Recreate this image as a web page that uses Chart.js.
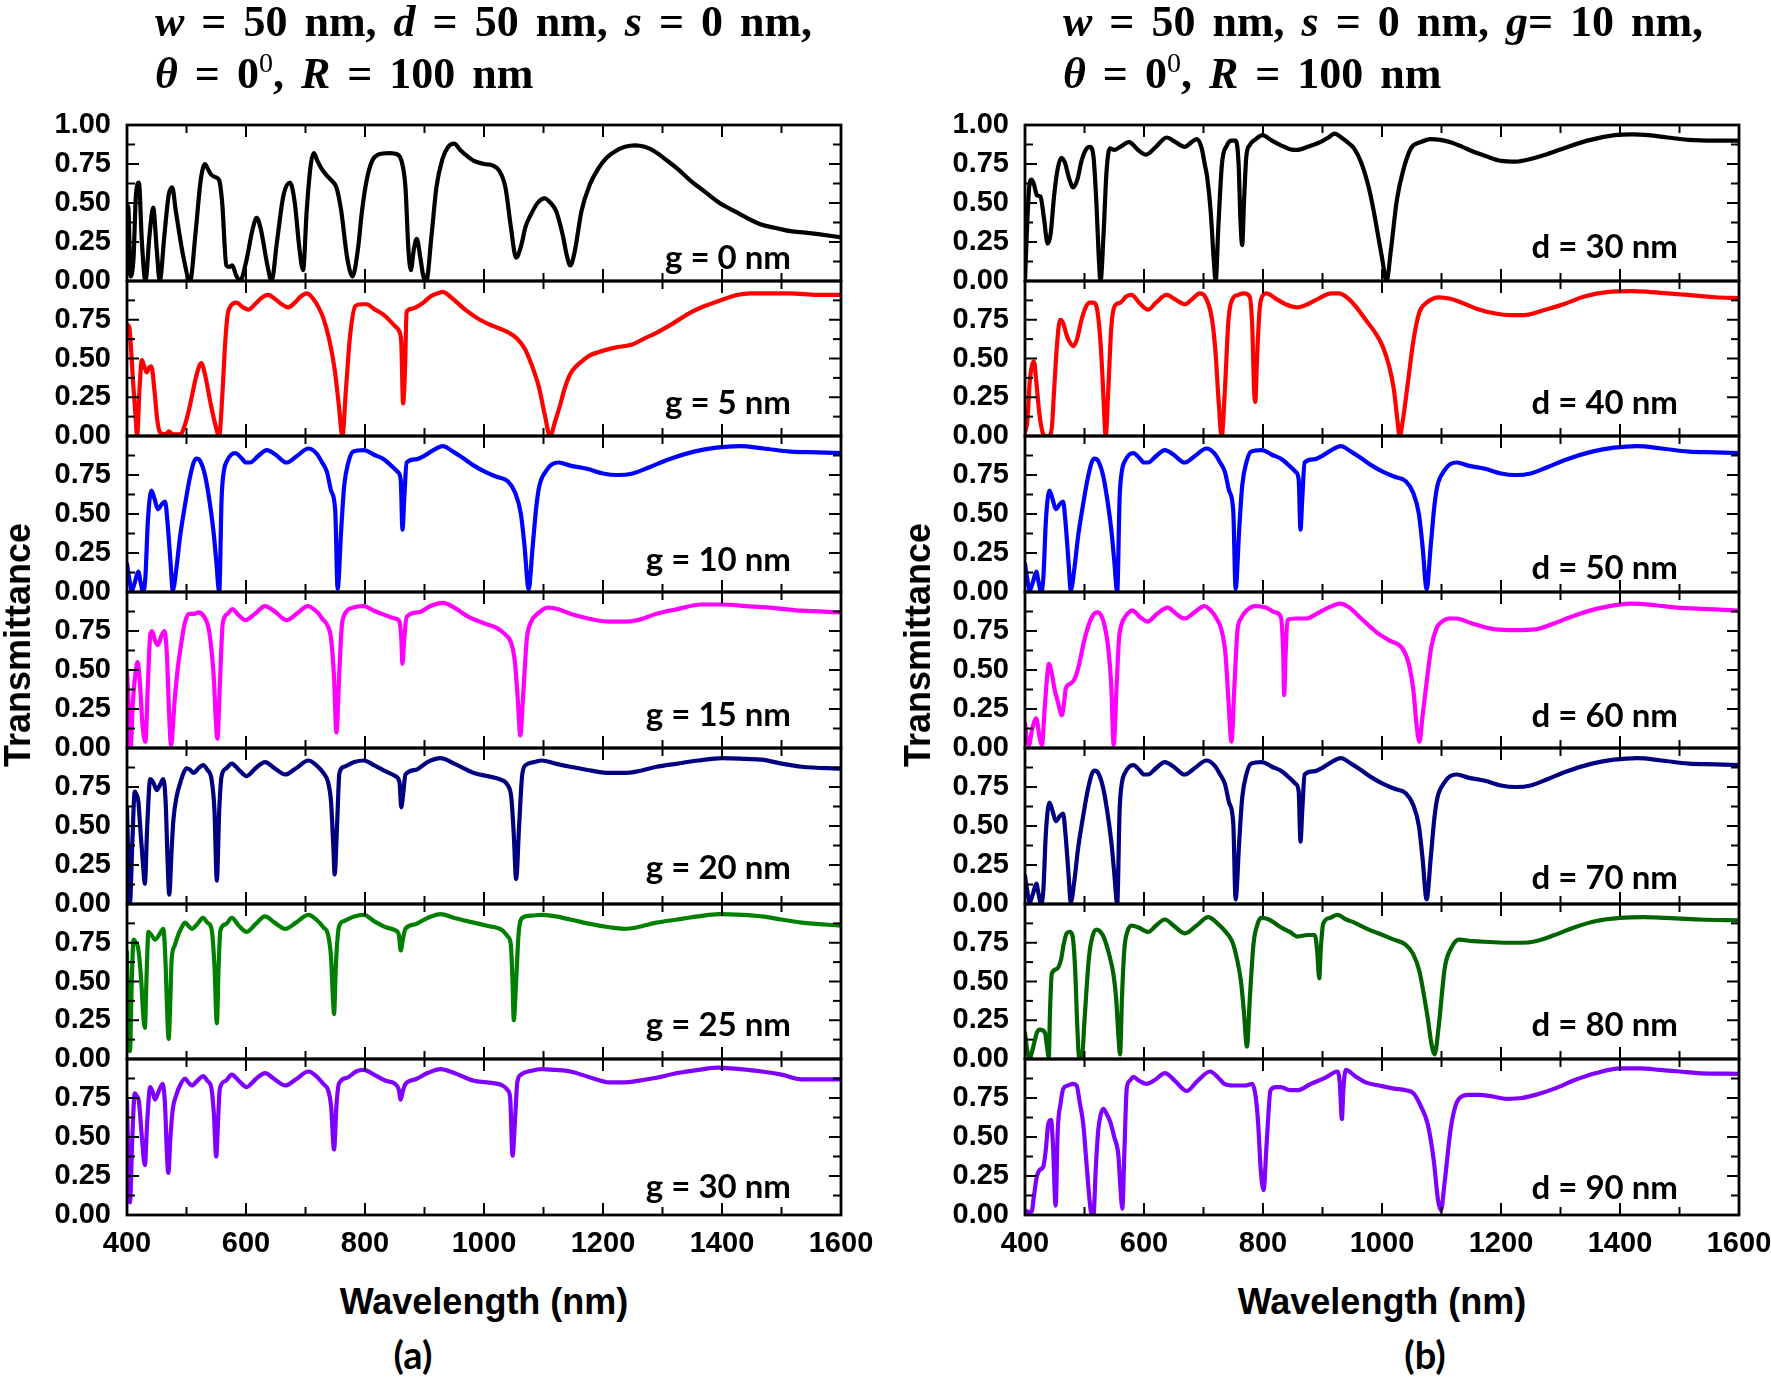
<!DOCTYPE html>
<html>
<head>
<meta charset="utf-8">
<script src="https://cdn.jsdelivr.net/npm/chart.js@4.4.1/dist/chart.umd.min.js"></script>
<style>
  html,body{margin:0;padding:0;background:#fff;}
  body{width:1771px;height:1384px;position:relative;overflow:hidden;font-family:'Liberation Sans',Arial,sans-serif;}
  canvas{position:absolute;}
  .title{position:absolute;font-family:'Liberation Serif','Times New Roman',serif;font-weight:bold;font-size:44px;line-height:52px;white-space:nowrap;letter-spacing:0;word-spacing:6px;color:#000;}
  .title sup{font-size:28px;font-weight:normal;vertical-align:0;position:relative;top:-16px;}
  .plabel{position:absolute;font-family:Lato,'Open Sans',sans-serif;font-weight:bold;font-size:33px;line-height:33px;white-space:nowrap;color:#000;transform:translateY(-50%);}
  .axt{position:absolute;font-family:'Liberation Sans',Arial,sans-serif;font-weight:bold;font-size:36px;line-height:36px;white-space:nowrap;color:#000;}
  .sub{position:absolute;font-family:Lato,'Open Sans',sans-serif;font-weight:bold;font-size:38px;line-height:38px;color:#000;transform:translate(-50%,-50%);}
</style>
</head>
<body>
<script>
// ---------- data ----------
const wavelengthTicks = [400, 600, 800, 1000, 1200, 1400, 1600];
const transmittanceTicks = [0, 0.25, 0.5, 0.75, 1.0];
const leftLabels = ['g = 0 nm', 'g = 5 nm', 'g = 10 nm', 'g = 15 nm', 'g = 20 nm', 'g = 25 nm', 'g = 30 nm'];
const rightLabels = ['d = 30 nm', 'd = 40 nm', 'd = 50 nm', 'd = 60 nm', 'd = 70 nm', 'd = 80 nm', 'd = 90 nm'];
const leftColors = ['#000000', '#ff0000', '#0000ff', '#ff00ff', '#000080', '#008000', '#8000ff'];
const rightColors = ['#000000', '#ff0000', '#0000ff', '#ff00ff', '#000080', '#006400', '#8000ff'];

// [wavelength (nm), transmittance]
const g0 = [[400,0.05],[402,0.48],[406,0.03],[411,0.15],[415,0.55],[420,0.63],[425,0.25],[431,0.0],[438,0.3],[444,0.47],[450,0.2],[455,0.0],[463,0.3],[470,0.55],[476,0.60],[482,0.45],[495,0.15],[506,0.0],[515,0.3],[524,0.65],[531,0.75],[537,0.71],[542,0.68],[549,0.665],[555,0.645],[560,0.5],[567,0.1],[572,0.09],[577,0.1],[583,0.04],[590,0.0],[600,0.12],[611,0.33],[618,0.405],[625,0.33],[636,0.1],[643,0.0],[652,0.25],[663,0.55],[674,0.63],[682,0.5],[690,0.2],[696,0.07],[702,0.45],[709,0.75],[714,0.82],[720,0.77],[727,0.72],[737,0.67],[745,0.64],[752,0.6],[760,0.45],[770,0.15],[779,0.03],[788,0.2],[795,0.45],[803,0.65],[812,0.77],[822,0.81],[841,0.82],[855,0.81],[862,0.76],[868,0.6],[873,0.2],[877,0.07],[882,0.2],[887,0.27],[893,0.15],[898,0.03],[903,0.0],[912,0.3],[920,0.6],[930,0.78],[940,0.86],[950,0.88],[960,0.84],[972,0.8],[983,0.77],[1000,0.75],[1015,0.74],[1025,0.71],[1036,0.6],[1045,0.35],[1054,0.15],[1062,0.22],[1070,0.35],[1078,0.42],[1090,0.5],[1102,0.53],[1112,0.5],[1121,0.45],[1132,0.3],[1140,0.15],[1145,0.1],[1152,0.18],[1164,0.45],[1178,0.62],[1192,0.72],[1206,0.79],[1220,0.83],[1237,0.86],[1254,0.87],[1270,0.86],[1287,0.83],[1305,0.78],[1325,0.72],[1348,0.64],[1372,0.57],[1396,0.5],[1420,0.45],[1444,0.4],[1467,0.36],[1490,0.34],[1515,0.32],[1540,0.31],[1562,0.3],[1600,0.28]];
const g5 = [[400,0.72],[404,0.70],[407,0.55],[410,0.36],[414,0.15],[417,0.0],[421,0.3],[425,0.49],[429,0.45],[433,0.41],[437,0.44],[441,0.45],[446,0.3],[451,0.1],[456,0.02],[465,0.01],[470,0.03],[478,0.01],[489,0.01],[498,0.08],[506,0.2],[516,0.38],[525,0.47],[532,0.38],[540,0.22],[548,0.08],[555,0.0],[560,0.25],[565,0.6],[569,0.78],[573,0.83],[584,0.86],[595,0.83],[604,0.815],[615,0.85],[626,0.89],[637,0.91],[650,0.88],[660,0.85],[671,0.83],[682,0.86],[692,0.9],[702,0.92],[712,0.89],[722,0.83],[730,0.76],[740,0.62],[749,0.43],[756,0.2],[762,0.0],[768,0.3],[775,0.65],[784,0.84],[794,0.85],[803,0.85],[815,0.82],[832,0.78],[850,0.71],[857,0.68],[861,0.6],[864,0.21],[867,0.4],[870,0.8],[878,0.82],[890,0.84],[898,0.86],[910,0.9],[922,0.92],[931,0.93],[943,0.9],[955,0.86],[970,0.81],[993,0.75],[1015,0.71],[1040,0.67],[1055,0.63],[1069,0.56],[1080,0.46],[1092,0.32],[1102,0.14],[1111,0.0],[1120,0.1],[1128,0.2],[1135,0.3],[1145,0.4],[1155,0.45],[1164,0.48],[1178,0.52],[1192,0.54],[1220,0.57],[1249,0.59],[1270,0.63],[1287,0.66],[1315,0.72],[1344,0.79],[1372,0.84],[1401,0.88],[1425,0.91],[1448,0.92],[1480,0.92],[1514,0.92],[1560,0.91],[1600,0.91]];
const g10 = [[400,0.18],[404,0.08],[408,0.01],[413,0.06],[419,0.13],[423,0.06],[427,0.0],[431,0.1],[435,0.45],[441,0.65],[446,0.6],[452,0.53],[458,0.56],[464,0.58],[468,0.45],[473,0.2],[477,0.01],[483,0.15],[489,0.35],[495,0.5],[505,0.72],[512,0.83],[517,0.855],[523,0.84],[531,0.75],[538,0.6],[545,0.4],[550,0.2],[555,0.0],[559,0.6],[563,0.78],[568,0.84],[575,0.88],[582,0.89],[592,0.86],[600,0.83],[607,0.83],[620,0.87],[635,0.91],[650,0.88],[668,0.83],[685,0.87],[705,0.92],[718,0.89],[728,0.83],[736,0.77],[743,0.65],[750,0.52],[754,0.02],[760,0.4],[765,0.68],[772,0.83],[780,0.9],[798,0.91],[815,0.88],[832,0.85],[855,0.77],[860,0.72],[863,0.40],[866,0.6],[870,0.83],[885,0.85],[898,0.87],[915,0.91],[931,0.935],[948,0.9],[964,0.86],[983,0.81],[1002,0.77],[1020,0.74],[1040,0.71],[1052,0.64],[1062,0.5],[1068,0.3],[1075,0.02],[1082,0.3],[1088,0.55],[1093,0.68],[1105,0.78],[1115,0.82],[1126,0.83],[1145,0.81],[1173,0.79],[1200,0.76],[1225,0.75],[1250,0.76],[1278,0.8],[1310,0.85],[1353,0.9],[1390,0.925],[1429,0.935],[1470,0.92],[1515,0.9],[1560,0.895],[1600,0.89]];
const g15 = [[400,0.5],[403,0.25],[406,0.0],[410,0.3],[415,0.5],[418,0.55],[422,0.4],[426,0.15],[431,0.04],[435,0.4],[439,0.72],[442,0.75],[447,0.69],[452,0.66],[458,0.72],[463,0.75],[467,0.6],[471,0.2],[474,0.02],[480,0.3],[485,0.5],[490,0.64],[497,0.8],[504,0.86],[513,0.86],[520,0.87],[530,0.84],[538,0.75],[545,0.5],[552,0.06],[556,0.4],[561,0.8],[569,0.86],[577,0.89],[588,0.85],[599,0.82],[615,0.86],[632,0.91],[650,0.87],[668,0.82],[685,0.86],[704,0.91],[720,0.87],[730,0.82],[737,0.785],[743,0.7],[748,0.45],[752,0.1],[757,0.5],[761,0.78],[765,0.85],[780,0.9],[798,0.91],[815,0.88],[835,0.85],[850,0.83],[858,0.81],[861,0.7],[863,0.54],[866,0.7],[870,0.84],[890,0.87],[910,0.91],[931,0.93],[950,0.9],[974,0.84],[1000,0.8],[1021,0.77],[1035,0.73],[1045,0.68],[1052,0.55],[1057,0.3],[1061,0.08],[1066,0.35],[1072,0.7],[1078,0.8],[1090,0.86],[1107,0.9],[1125,0.89],[1145,0.86],[1175,0.83],[1211,0.81],[1235,0.81],[1258,0.82],[1290,0.86],[1325,0.89],[1365,0.92],[1401,0.92],[1440,0.91],[1480,0.9],[1534,0.88],[1600,0.87]];
const g20 = [[400,0.62],[402,0.3],[405,0.01],[409,0.4],[413,0.72],[416,0.7],[419,0.66],[423,0.45],[427,0.25],[430,0.13],[434,0.5],[439,0.8],[444,0.78],[450,0.73],[455,0.76],[461,0.8],[465,0.65],[468,0.3],[471,0.06],[475,0.35],[478,0.54],[484,0.7],[489,0.77],[495,0.84],[500,0.87],[506,0.86],[512,0.84],[520,0.87],[528,0.89],[535,0.86],[542,0.8],[547,0.6],[551,0.15],[555,0.6],[559,0.82],[567,0.87],[576,0.9],[588,0.86],[601,0.82],[616,0.87],[632,0.91],[648,0.87],[666,0.83],[684,0.87],[705,0.92],[718,0.89],[730,0.84],[738,0.78],[743,0.65],[747,0.35],[749,0.19],[753,0.5],[757,0.84],[765,0.88],[782,0.91],[798,0.92],[815,0.89],[835,0.85],[851,0.82],[858,0.78],[861,0.62],[864,0.7],[868,0.83],[885,0.86],[905,0.91],[927,0.935],[950,0.9],[983,0.84],[1005,0.82],[1026,0.8],[1040,0.76],[1046,0.68],[1050,0.45],[1054,0.16],[1059,0.5],[1064,0.82],[1070,0.89],[1085,0.91],[1097,0.92],[1120,0.9],[1145,0.88],[1180,0.855],[1211,0.84],[1235,0.84],[1258,0.85],[1290,0.88],[1325,0.9],[1360,0.92],[1401,0.935],[1440,0.93],[1467,0.925],[1500,0.9],[1534,0.88],[1600,0.867]];
const g25 = [[400,0.69],[402,0.3],[405,0.05],[408,0.5],[411,0.77],[415,0.75],[419,0.71],[424,0.5],[427,0.3],[430,0.2],[433,0.55],[436,0.82],[441,0.8],[447,0.77],[454,0.8],[461,0.84],[465,0.6],[468,0.25],[470,0.13],[473,0.4],[475,0.64],[480,0.73],[486,0.8],[492,0.85],[497.5,0.88],[503,0.86],[509,0.84],[518,0.87],[528,0.91],[535,0.88],[542,0.84],[547,0.6],[551,0.23],[554,0.6],[557,0.83],[566,0.87],[576,0.91],[588,0.86],[601,0.82],[616,0.87],[632,0.92],[648,0.88],[666,0.84],[684,0.88],[705,0.93],[718,0.9],[730,0.85],[738,0.8],[743,0.65],[746,0.4],[748,0.29],[751,0.6],[756,0.85],[765,0.89],[782,0.92],[798,0.93],[815,0.89],[835,0.85],[851,0.83],[857,0.8],[860,0.7],[864,0.78],[868,0.84],[885,0.87],[905,0.91],[927,0.935],[950,0.91],[983,0.88],[1005,0.86],[1031,0.83],[1040,0.79],[1045,0.74],[1048,0.5],[1050,0.25],[1054,0.5],[1058,0.8],[1064,0.91],[1080,0.925],[1097,0.93],[1120,0.92],[1145,0.9],[1180,0.87],[1211,0.85],[1235,0.84],[1258,0.85],[1290,0.88],[1325,0.9],[1360,0.92],[1395,0.935],[1435,0.93],[1467,0.92],[1500,0.9],[1534,0.88],[1600,0.86]];
const g30 = [[400,0.73],[402,0.4],[405,0.08],[409,0.5],[413,0.78],[417,0.76],[420,0.73],[425,0.5],[430,0.32],[434,0.6],[439,0.82],[443,0.79],[447,0.74],[453,0.79],[460,0.84],[464,0.7],[467,0.4],[469.5,0.27],[473,0.5],[477,0.68],[483,0.77],[489,0.83],[497.5,0.875],[503,0.85],[509,0.83],[518,0.86],[528,0.89],[535,0.86],[542,0.81],[546,0.65],[550,0.375],[553,0.6],[556,0.81],[566,0.86],[576,0.9],[588,0.86],[601,0.82],[616,0.87],[632,0.91],[648,0.87],[666,0.83],[684,0.87],[705,0.92],[718,0.89],[730,0.84],[738,0.8],[743,0.7],[748,0.42],[752,0.7],[756,0.84],[770,0.88],[785,0.92],[798,0.93],[815,0.9],[835,0.86],[851,0.84],[857,0.8],[860,0.74],[864,0.8],[868,0.84],[885,0.87],[905,0.91],[927,0.935],[950,0.91],[983,0.86],[1005,0.85],[1031,0.83],[1040,0.8],[1044,0.75],[1048,0.38],[1052,0.6],[1056,0.85],[1062,0.9],[1080,0.925],[1097,0.935],[1120,0.93],[1145,0.92],[1180,0.88],[1211,0.85],[1235,0.85],[1258,0.86],[1290,0.88],[1325,0.91],[1360,0.93],[1392,0.945],[1430,0.935],[1467,0.92],[1500,0.9],[1534,0.87],[1600,0.87]];

const d30 = [[400,0.0],[403,0.3],[407,0.6],[411,0.65],[415,0.62],[420,0.55],[426,0.54],[432,0.4],[438,0.24],[443,0.3],[449,0.55],[455,0.72],[461,0.79],[467,0.76],[474,0.66],[481,0.6],[488,0.65],[495,0.77],[502,0.84],[509,0.86],[515,0.8],[520,0.5],[524,0.15],[527,0.0],[532,0.3],[537,0.7],[542.6,0.85],[550,0.84],[560,0.86],[575,0.89],[590,0.84],[603.5,0.81],[620,0.86],[638,0.92],[653,0.89],[668,0.86],[680,0.89],[689,0.91],[697,0.85],[702,0.75],[706,0.67],[712,0.45],[717,0.15],[720.5,0.0],[725,0.35],[731,0.75],[739.5,0.87],[747,0.9],[754,0.9],[759,0.75],[762,0.4],[765,0.23],[768,0.5],[772,0.8],[777.5,0.87],[788,0.91],[799,0.935],[815,0.9],[830,0.87],[845,0.845],[858,0.84],[875,0.86],[896,0.89],[910,0.92],[920,0.945],[935,0.91],[945,0.88],[953,0.85],[965,0.76],[977,0.61],[986,0.45],[993,0.3],[1000,0.15],[1007.7,0.0],[1015,0.2],[1025,0.52],[1035,0.7],[1048.6,0.85],[1065,0.89],[1082,0.91],[1098,0.905],[1115,0.89],[1135,0.86],[1153,0.83],[1175,0.8],[1200,0.77],[1225,0.765],[1248,0.78],[1275,0.81],[1305,0.85],[1345,0.9],[1391,0.935],[1420,0.94],[1448,0.935],[1480,0.92],[1514.5,0.905],[1560,0.9],[1600,0.9]];
const d40 = [[400,0.02],[404,0.1],[408,0.35],[412,0.46],[415,0.48],[419,0.35],[424,0.15],[429,0.03],[433,0.0],[440,0.0],[445,0.05],[449,0.3],[454,0.6],[459,0.75],[464,0.73],[470,0.65],[476,0.6],[481,0.58],[487,0.62],[495,0.75],[502,0.83],[509,0.86],[515,0.86],[520.5,0.83],[526,0.65],[530,0.4],[533,0.15],[535.6,0.0],[540,0.3],[545,0.7],[551,0.84],[560,0.86],[570,0.9],[579,0.91],[592,0.86],[607,0.815],[620,0.86],[638,0.91],[653,0.88],[669,0.85],[680,0.88],[694,0.92],[704,0.89],[714,0.76],[720,0.55],[725,0.25],[730.5,0.0],[736,0.3],[742,0.75],[749,0.885],[758,0.91],[768,0.92],[777.5,0.9],[782,0.7],[785,0.3],[787,0.22],[790,0.5],[794,0.8],[797,0.885],[806,0.92],[820,0.89],[838,0.85],[858,0.83],[875,0.85],[895,0.89],[915,0.92],[928,0.92],[939,0.9],[955,0.84],[972.5,0.75],[988,0.67],[1001,0.58],[1012,0.45],[1020,0.3],[1026,0.1],[1029.6,0.0],[1035,0.1],[1044,0.36],[1053,0.62],[1063,0.8],[1075,0.86],[1096,0.895],[1115,0.885],[1134,0.86],[1160,0.82],[1191,0.79],[1215,0.78],[1239,0.78],[1270,0.81],[1305,0.85],[1340,0.9],[1381,0.93],[1420,0.935],[1448,0.93],[1480,0.92],[1514.5,0.91],[1560,0.895],[1600,0.89]];
const d50 = [[400,0.18],[404,0.08],[408,0.01],[413,0.06],[419,0.13],[423,0.06],[427,0.0],[431,0.1],[435,0.45],[441,0.65],[446,0.6],[452,0.53],[458,0.56],[464,0.58],[468,0.45],[473,0.2],[477,0.01],[483,0.15],[489,0.35],[495,0.5],[505,0.72],[512,0.83],[517,0.855],[523,0.84],[531,0.75],[538,0.6],[545,0.4],[550,0.2],[555,0.0],[559,0.6],[563,0.78],[568,0.84],[575,0.88],[582,0.89],[592,0.86],[600,0.83],[607,0.83],[620,0.87],[635,0.91],[650,0.88],[668,0.83],[685,0.87],[705,0.92],[718,0.89],[728,0.83],[736,0.77],[743,0.65],[750,0.52],[754,0.02],[760,0.4],[765,0.68],[772,0.83],[780,0.9],[798,0.91],[815,0.88],[832,0.85],[855,0.77],[860,0.72],[863,0.40],[866,0.6],[870,0.83],[885,0.85],[898,0.87],[915,0.91],[931,0.935],[948,0.9],[964,0.86],[983,0.81],[1002,0.77],[1020,0.74],[1040,0.71],[1052,0.64],[1062,0.5],[1068,0.3],[1075,0.02],[1082,0.3],[1088,0.55],[1093,0.68],[1105,0.78],[1115,0.82],[1126,0.83],[1145,0.81],[1173,0.79],[1200,0.76],[1225,0.75],[1250,0.76],[1278,0.8],[1310,0.85],[1353,0.9],[1390,0.925],[1429,0.935],[1470,0.92],[1515,0.9],[1560,0.895],[1600,0.89]];
const d60 = [[400,0.16],[403,0.06],[406.7,0.02],[412,0.12],[419,0.19],[424,0.08],[428.5,0.02],[433,0.25],[437,0.45],[440,0.54],[445,0.48],[449.5,0.38],[455,0.3],[462,0.21],[466,0.3],[468.5,0.38],[475,0.41],[483,0.44],[490,0.52],[499,0.68],[508,0.8],[516,0.86],[522,0.87],[528,0.85],[534,0.78],[540,0.64],[545,0.4],[549,0.02],[554,0.4],[558,0.7],[561.7,0.785],[570,0.85],[580.7,0.88],[593,0.84],[606,0.81],[622,0.86],[639.7,0.9],[654,0.86],[668,0.83],[685,0.87],[701.5,0.91],[715,0.87],[722,0.83],[730,0.76],[737,0.6],[742,0.3],[747,0.04],[752,0.4],[757,0.75],[763,0.83],[772,0.88],[787,0.91],[805,0.9],[820,0.87],[830,0.84],[834,0.6],[835.6,0.34],[838,0.6],[841,0.82],[855,0.83],[872.6,0.83],[890,0.86],[910,0.9],[929.7,0.925],[945,0.9],[965,0.83],[991.5,0.74],[1012,0.69],[1034,0.64],[1045,0.54],[1053,0.36],[1058,0.15],[1063,0.04],[1068,0.2],[1075,0.42],[1083,0.65],[1092,0.77],[1101,0.81],[1112,0.83],[1124.7,0.83],[1150,0.8],[1191,0.76],[1225,0.755],[1258,0.76],[1290,0.8],[1324,0.85],[1370,0.9],[1419.5,0.925],[1460,0.915],[1495.6,0.9],[1550,0.89],[1600,0.88]];
const d70 = [[400,0.18],[404,0.08],[408,0.01],[413,0.06],[419,0.13],[423,0.06],[427,0.0],[431,0.1],[435,0.45],[441,0.65],[446,0.6],[452,0.53],[458,0.56],[464,0.58],[468,0.45],[473,0.2],[477,0.01],[483,0.15],[489,0.35],[495,0.5],[505,0.72],[512,0.83],[517,0.855],[523,0.84],[531,0.75],[538,0.6],[545,0.4],[550,0.2],[555,0.0],[559,0.6],[563,0.78],[568,0.84],[575,0.88],[582,0.89],[592,0.86],[600,0.83],[607,0.83],[620,0.87],[635,0.91],[650,0.88],[668,0.83],[685,0.87],[705,0.92],[718,0.89],[728,0.83],[736,0.77],[743,0.65],[750,0.52],[754,0.03],[760,0.4],[765,0.68],[772,0.83],[780,0.9],[798,0.91],[815,0.88],[832,0.85],[855,0.77],[860,0.72],[863,0.40],[866,0.6],[870,0.83],[885,0.85],[898,0.87],[915,0.91],[931,0.935],[948,0.9],[964,0.86],[983,0.81],[1002,0.77],[1020,0.74],[1040,0.71],[1052,0.64],[1062,0.5],[1068,0.3],[1075,0.03],[1082,0.3],[1088,0.55],[1093,0.68],[1105,0.78],[1115,0.82],[1126,0.83],[1145,0.81],[1173,0.79],[1200,0.76],[1225,0.75],[1250,0.76],[1278,0.8],[1310,0.85],[1353,0.9],[1390,0.925],[1429,0.935],[1470,0.92],[1515,0.9],[1560,0.895],[1600,0.89]];
const d80 = [[400,0.17],[404,0.05],[408,0.01],[414,0.08],[420,0.17],[425,0.19],[433.6,0.17],[437,0.08],[440,0.01],[442,0.3],[445,0.55],[453,0.58],[460.5,0.64],[465,0.74],[470,0.81],[475,0.82],[479.5,0.8],[484,0.6],[488,0.2],[491,0.01],[496,0.02],[500,0.25],[507.6,0.66],[514,0.8],[520.4,0.835],[527,0.82],[533,0.78],[541,0.68],[548.5,0.55],[553,0.4],[557,0.15],[559.7,0.03],[563,0.4],[567,0.71],[572,0.82],[579,0.86],[590,0.85],[607,0.82],[620,0.86],[635,0.9],[650,0.86],[669,0.81],[688,0.86],[708,0.915],[722,0.88],[741.7,0.8],[749,0.75],[756,0.65],[763,0.5],[768,0.3],[773,0.08],[778,0.4],[784,0.74],[790,0.86],[796.6,0.91],[810,0.9],[830,0.85],[845,0.82],[858,0.79],[875,0.8],[887,0.8],[891,0.7],[894.5,0.52],[897,0.7],[901,0.87],[912,0.91],[925,0.93],[940,0.9],[953.5,0.88],[975,0.84],[1001,0.8],[1020,0.77],[1039,0.74],[1052,0.68],[1063,0.565],[1071,0.4],[1077,0.26],[1083,0.1],[1088.5,0.03],[1095,0.2],[1105.6,0.59],[1117,0.72],[1129,0.77],[1153,0.76],[1180,0.755],[1210,0.75],[1235,0.75],[1258,0.76],[1290,0.8],[1324,0.85],[1360,0.89],[1400,0.91],[1440,0.915],[1476.5,0.91],[1533.6,0.9],[1600,0.895]];
const d90 = [[400,0.03],[406,0.02],[411,0.02],[415,0.12],[419.6,0.24],[425,0.29],[430.8,0.31],[435,0.42],[439,0.58],[443.7,0.61],[447,0.45],[451.5,0.06],[455,0.54],[460,0.72],[464.4,0.81],[472,0.83],[480,0.84],[486.8,0.83],[492,0.72],[498,0.58],[504,0.3],[511,0.02],[515,0.0],[519,0.3],[523,0.54],[527,0.64],[531.7,0.68],[537,0.65],[543,0.6],[550,0.5],[557,0.38],[560,0.2],[563.6,0.04],[567,0.4],[571,0.81],[576,0.86],[582,0.885],[592,0.86],[604.5,0.84],[620,0.87],[635,0.91],[652,0.86],[671.7,0.795],[690,0.86],[711,0.92],[725,0.88],[735,0.84],[750,0.83],[770,0.83],[782,0.84],[788,0.75],[792,0.58],[796,0.3],[801,0.16],[806,0.45],[812.7,0.8],[822,0.82],[830,0.82],[845,0.8],[858,0.8],[880,0.84],[905,0.88],[925,0.92],[929,0.85],[932.6,0.615],[935,0.8],[939,0.93],[955,0.89],[972.5,0.85],[995,0.83],[1020,0.81],[1040,0.8],[1053,0.78],[1065,0.7],[1077,0.58],[1087,0.35],[1094,0.1],[1099,0.03],[1105,0.2],[1115,0.54],[1122,0.68],[1129.4,0.745],[1145,0.77],[1163,0.77],[1185,0.76],[1210,0.745],[1235,0.75],[1258,0.77],[1290,0.81],[1324,0.865],[1360,0.91],[1400,0.94],[1435,0.94],[1467,0.93],[1500,0.92],[1530,0.91],[1600,0.905]];

const leftSeries = [g0, g5, g10, g15, g20, g25, g30];
const rightSeries = [d30, d40, d50, d60, d70, d80, d90];

// ---------- layout ----------
const PLOT_W = 714, TOP = 125, BOTTOM = 1215, NP = 7;
const PANEL_H = (BOTTOM - TOP) / NP;
const COL_X = [127, 1025];
const PADL = 120, PADR = 46, PADT = 44, PADB = 44, XH = 62;
const LABEL_RIGHT = [791, 1678];
const LABEL_OFF = [[25, 35, 34, 35, 38, 36, 30], [36, 35, 26, 34, 28, 36, 29]];

const framePlugin = {
  id: 'frame',
  afterDatasetsDraw(chart) {
    const { ctx, chartArea: a, scales: { x, y } } = chart;
    ctx.save();
    ctx.strokeStyle = '#000';
    ctx.lineCap = 'butt';
    ctx.lineWidth = 2;
    const seg = (x1, y1, x2, y2) => { ctx.beginPath(); ctx.moveTo(x1, y1); ctx.lineTo(x2, y2); ctx.stroke(); };
    for (let v = 400; v <= 1600; v += 100) {
      const px = x.getPixelForValue(v);
      const L = (v % 200 === 0) ? 12 : 8;
      seg(px, a.bottom, px, a.bottom - L);
      seg(px, a.top, px, a.top + L);
    }
    for (let k = 0; k <= 8; k++) {
      const py = y.getPixelForValue(k * 0.125);
      const L = (k % 2 === 0) ? 12 : 8;
      seg(a.left, py, a.left + L, py);
      seg(a.right, py, a.right - L, py);
    }
    ctx.lineWidth = 2.8;
    ctx.strokeRect(a.left, a.top, a.right - a.left, a.bottom - a.top);
    ctx.restore();
  }
};

function makePanel(col, i, series, color) {
  const isTop = i === 0, isBottom = i === NP - 1;
  const pTop = Math.round(TOP + i * PANEL_H);
  const pBot = Math.round(TOP + (i + 1) * PANEL_H);
  const left = COL_X[col] - PADL;
  const top = pTop - PADT;
  const w = PADL + PLOT_W + PADR;
  const h = (pBot - pTop) + PADT + (isBottom ? XH : PADB);
  const cv = document.createElement('canvas');
  cv.width = w; cv.height = h;
  cv.style.left = left + 'px'; cv.style.top = top + 'px';
  cv.style.width = w + 'px'; cv.style.height = h + 'px';
  document.body.appendChild(cv);
  const yTicks = isTop ? transmittanceTicks : transmittanceTicks.slice(0, 4);
  new Chart(cv, {
    type: 'line',
    data: { datasets: [{ data: series.map(p => ({ x: p[0], y: p[1] })), borderColor: color, borderWidth: 4.2, pointRadius: 0, cubicInterpolationMode: 'monotone', fill: false, borderJoinStyle: 'round', borderCapStyle: 'round' }] },
    options: {
      responsive: false, maintainAspectRatio: false, animation: false, devicePixelRatio: 1,
      layout: { padding: { left: 0, right: PADR, top: PADT, bottom: isBottom ? 0 : PADB } },
      plugins: { legend: { display: false }, tooltip: { enabled: false } },
      scales: {
        x: {
          type: 'linear', min: 400, max: 1600, position: 'bottom',
          afterFit: s => { s.height = isBottom ? XH : 0; },
          afterBuildTicks: s => { s.ticks = wavelengthTicks.map(v => ({ value: v })); },
          grid: { display: false, drawTicks: false }, border: { display: false },
          ticks: { display: isBottom, color: '#000', padding: 12, maxRotation: 0, autoSkip: false,
                   callback: v => String(v),
                   font: { family: "'Liberation Sans', Arial, sans-serif", weight: 'bold', size: 29 } }
        },
        y: {
          type: 'linear', min: 0, max: 1, position: 'left',
          afterFit: s => { s.width = PADL; },
          afterBuildTicks: s => { s.ticks = yTicks.map(v => ({ value: v })); },
          grid: { display: false, drawTicks: false }, border: { display: false },
          ticks: { color: '#000', padding: 16, callback: v => Number(v).toFixed(2),
                   font: { family: "'Liberation Sans', Arial, sans-serif", weight: 'bold', size: 29 } }
        }
      }
    },
    plugins: [framePlugin]
  });
  const lab = document.createElement('div');
  lab.className = 'plabel';
  lab.textContent = (col === 0 ? leftLabels : rightLabels)[i];
  lab.style.right = (1771 - LABEL_RIGHT[col]) + 'px';
  lab.style.top = (pBot - LABEL_OFF[col][i]) + 'px';
  document.body.appendChild(lab);
}

leftSeries.forEach((s, i) => makePanel(0, i, s, leftColors[i]));
rightSeries.forEach((s, i) => makePanel(1, i, s, rightColors[i]));

// ---------- text ----------
function addDiv(cls, html, css) {
  const d = document.createElement('div');
  d.className = cls; d.innerHTML = html;
  Object.assign(d.style, css);
  document.body.appendChild(d);
  return d;
}
addDiv('title', '<i>w</i> = 50 nm, <i>d</i> = 50 nm, <i>s</i> = 0 nm,<br><i>θ</i> = 0<sup>0</sup>, <i>R</i> = 100 nm', { left: '155px', top: '-4px' });
addDiv('title', '<i>w</i> = 50 nm, <i>s</i> = 0 nm, <i>g</i>= 10 nm,<br><i>θ</i> = 0<sup>0</sup>, <i>R</i> = 100 nm', { left: '1063px', top: '-4px' });
addDiv('axt', 'Wavelength (nm)', { left: '484px', top: '1302px', transform: 'translate(-50%,-50%)' });
addDiv('axt', 'Wavelength (nm)', { left: '1382px', top: '1302px', transform: 'translate(-50%,-50%)' });
addDiv('axt', 'Transmittance', { left: '18px', top: '645px', transform: 'translate(-50%,-50%) rotate(-90deg)' });
addDiv('axt', 'Transmittance', { left: '918px', top: '645px', transform: 'translate(-50%,-50%) rotate(-90deg)' });
addDiv('sub', '(a)', { left: '413px', top: '1354px' });
addDiv('sub', '(b)', { left: '1425px', top: '1354px' });
</script>
</body>
</html>
